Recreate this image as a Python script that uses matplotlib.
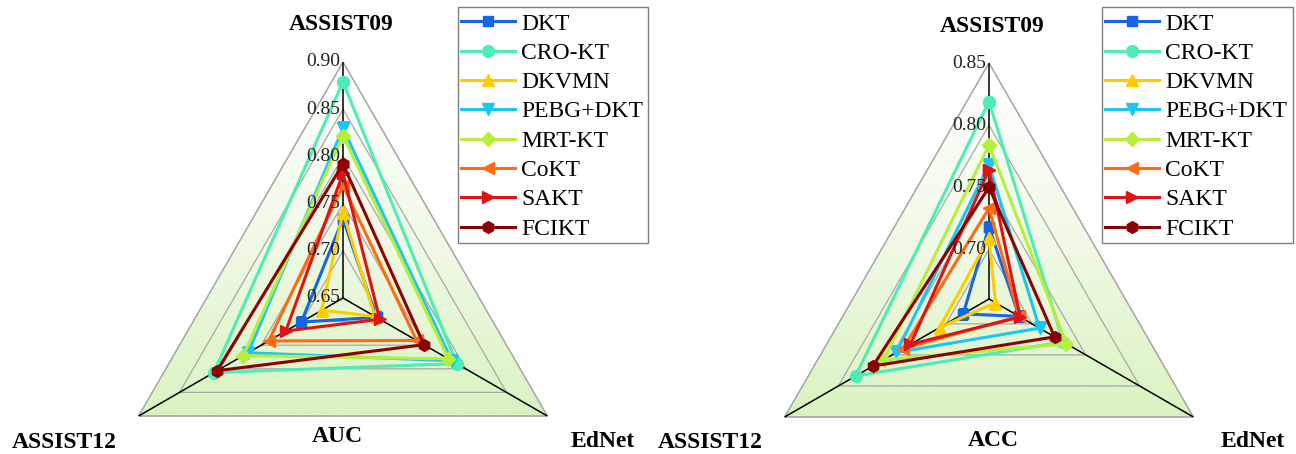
import numpy as np
import matplotlib
matplotlib.use('Agg')
import matplotlib.pyplot as plt
from matplotlib.colors import LinearSegmentedColormap
from matplotlib.patches import Polygon, Rectangle

plt.rcParams['font.family'] = ['Liberation Serif', 'DejaVu Serif']

# ---------------------------------------------------------------- data
datasets = ['ASSIST09', 'ASSIST12', 'EdNet']
models = ['DKT', 'CRO-KT', 'DKVMN', 'PEBG+DKT', 'MRT-KT', 'CoKT', 'SAKT', 'FCIKT']

# AUC per model, order = datasets
auc_dkt = [0.734, 0.701, 0.691]
auc_crokt = [0.879, 0.808, 0.789]
auc_dkvmn = [0.741, 0.676, 0.689]
auc_pebg = [0.830, 0.766, 0.783]
auc_mrtkt = [0.822, 0.772, 0.779]
auc_cokt = [0.769, 0.741, 0.740]
auc_sakt = [0.782, 0.720, 0.695]
auc_fcikt = [0.792, 0.804, 0.749]

# ACC per model, order = datasets
acc_dkt = [0.718, 0.684, 0.688]
acc_crokt = [0.819, 0.784, 0.729]
acc_dkvmn = [0.709, 0.706, 0.666]
acc_pebg = [0.768, 0.746, 0.707]
acc_mrtkt = [0.784, 0.758, 0.732]
acc_cokt = [0.733, 0.740, 0.688]
acc_sakt = [0.764, 0.733, 0.689]
acc_fcikt = [0.750, 0.768, 0.721]

auc_ticks = [0.65, 0.70, 0.75, 0.80, 0.85, 0.90]
acc_ticks = [0.70, 0.75, 0.80, 0.85]

# ---------------------------------------------------------------- style
colors = ['#1466E6', '#4DEDB5', '#FFCC00', '#1CC6F2', '#B5EE3C', '#FF6A12', '#E21212', '#8B0000']
markers = ['s', 'o', '^', 'v', 'D', '<', '>', 'h']
msizes = [7, 8.5, 8, 8, 7, 8, 8, 8.5]
angle = {'ASSIST09': 0.0, 'EdNet': 2 * np.pi / 3, 'ASSIST12': 4 * np.pi / 3}
bg_cmap = LinearSegmentedColormap.from_list('bg', ['#FFFFFF', '#F0F9E6', '#D9F3C0'])

auc_all = [auc_dkt, auc_crokt, auc_dkvmn, auc_pebg, auc_mrtkt, auc_cokt, auc_sakt, auc_fcikt]
acc_all = [acc_dkt, acc_crokt, acc_dkvmn, acc_pebg, acc_mrtkt, acc_cokt, acc_sakt, acc_fcikt]

fig = plt.figure(figsize=(12.96, 4.54), dpi=100)
W, H = 1296, 454


def make_ax(cx, cy, R):
    # square polar axes whose outer radius is R pixels around (cx, cy)
    return fig.add_axes([(cx - R) / W, (H - cy - R) / H, 2 * R / W, 2 * R / H], projection='polar')


def draw_radar(ax, values, vmin, vmax, ticks, metric, lab_off, metric_off):
    ax.set_theta_zero_location('N')
    ax.set_theta_direction(-1)
    th = [angle[d] for d in datasets]
    th_c = th + th[:1]

    # gradient background clipped to the outer triangle
    tg, rg = np.meshgrid(np.linspace(0, 2 * np.pi, 361), np.linspace(vmin, vmax, 80))
    yy = (rg - vmin) / (vmax - vmin) * np.cos(tg)
    mesh = ax.pcolormesh(tg, rg, (1 - yy) / 1.5, cmap=bg_cmap, vmin=0, vmax=1,
                         shading='gouraud', zorder=0)
    tri = Polygon(np.column_stack([th, [vmax] * 3]), closed=True, transform=ax.transData,
                  facecolor='none', edgecolor='none')
    ax.add_patch(tri)
    mesh.set_clip_path(tri)

    # triangular grid and spokes
    for v in ticks + [vmax]:
        if v > vmin:
            ax.plot(th_c, [v] * 4, color='#A8A8A8', lw=0.9, zorder=1)
    for a in th:
        ax.plot([a, a], [vmin, vmax], color='black', lw=1.1, zorder=1)

    handles = []
    for i, m in enumerate(models):
        vals = list(values[i]) + [values[i][0]]
        ln, = ax.plot(th_c, vals, color=colors[i], lw=2.2, marker=markers[i],
                      ms=msizes[i], mec=colors[i], label=m, zorder=3 + i)
        handles.append(ln)

    for v in ticks:
        if v > vmin - 1e-9:
            ax.annotate('%.2f' % v, xy=(0, v), xytext=(-3, 0), textcoords='offset pixels',
                        ha='right', va='center', fontsize=14, color='#222222', zorder=20)

    for d in datasets:
        ax.annotate(d, xy=(angle[d], vmax), xytext=lab_off[d], textcoords='offset pixels',
                    ha='center', va='center', fontsize=17, fontweight='bold')
    ax.annotate(metric, xy=(np.pi, vmin + 0.5 * (vmax - vmin)), xytext=metric_off,
                textcoords='offset pixels', ha='center', va='center', fontsize=17,
                fontweight='bold')

    ax.set_ylim(vmin, vmax)
    ax.grid(False)
    ax.set_xticks([])
    ax.set_yticks([])
    ax.spines['polar'].set_visible(False)
    ax.patch.set_visible(False)
    return handles


ax1 = make_ax(343, 298, 236)
h1 = draw_radar(ax1, auc_all, 0.65, 0.90, auc_ticks, 'AUC',
                {'ASSIST09': (-2, 37), 'ASSIST12': (-74, -26), 'EdNet': (55, -26)}, (-6, -21))
ax2 = make_ax(989, 299, 236)
h2 = draw_radar(ax2, acc_all, 0.66, 0.85, acc_ticks, 'ACC',
                {'ASSIST09': (3, 37), 'ASSIST12': (-74, -25), 'EdNet': (59, -25)}, (4, -24))

# legends: frameless, with a hand-placed box (pixel extents of the reference)
for hs, box in [(h1, (458, 648)), (h2, (1102, 1293))]:
    x0, x1 = box
    fig.legend(handles=hs, loc='upper left', bbox_to_anchor=((x0 + 3) / W, 1 - 13 / H),
               fontsize=17, frameon=False, handlelength=2.29, handletextpad=0.25,
               labelspacing=0.33, borderpad=0.0, borderaxespad=0.0)
    fig.patches.append(Rectangle((x0 / W, 1 - 243 / H), (x1 - x0) / W, 236 / H,
                                 transform=fig.transFigure, facecolor='white',
                                 edgecolor='#7F7F7F', lw=1.0, zorder=-1))

fig.savefig('out.png', dpi=100)
